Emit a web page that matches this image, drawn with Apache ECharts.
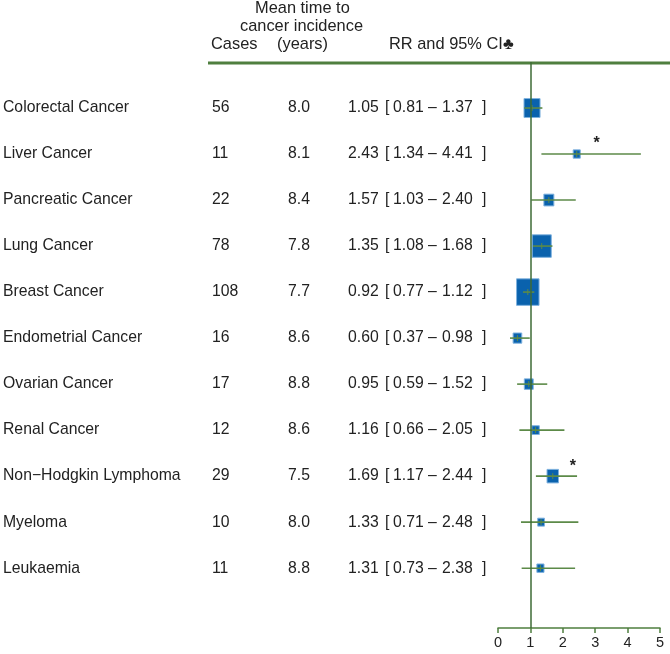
<!DOCTYPE html>
<html><head><meta charset="utf-8">
<script src="https://cdn.jsdelivr.net/npm/echarts@6/dist/echarts.min.js"></script>
<style>html,body{margin:0;padding:0;background:#fff}#c{width:670px;height:654px}</style>
</head><body><div id="c"></div>
<script>
const categories = ["Colorectal Cancer","Liver Cancer","Pancreatic Cancer","Lung Cancer","Breast Cancer","Endometrial Cancer","Ovarian Cancer","Renal Cancer","Non\u2212Hodgkin Lymphoma","Myeloma","Leukaemia"];
const cases = [56,11,22,78,108,16,17,12,29,10,11];
const meanTime = ["8.0","8.1","8.4","7.8","7.7","8.6","8.8","8.6","7.5","8.0","8.8"];
const rr = [1.05,2.43,1.57,1.35,0.92,0.60,0.95,1.16,1.69,1.33,1.31];
const lower = [0.81,1.34,1.03,1.08,0.77,0.37,0.59,0.66,1.17,0.71,0.73];
const upper = [1.37,4.41,2.40,1.68,1.12,0.98,1.52,2.05,2.44,2.48,2.38];
const significant = [false,true,false,false,false,false,false,false,true,false,false];
const xTicks = [0,1,2,3,4,5];

const FONT = '"Liberation Sans", Arial, sans-serif';
const TXT = '#222';
const GREEN = '#4f7f3f';
const FS = 15.75;
const HFS = 16.4;

const rows = categories.map((c,i)=>[rr[i], i+1, lower[i], upper[i], i]);

function fmt(v){return v.toFixed(2);}
function st(w){return {width:w, align:'left', fontSize:FS, fontFamily:FONT, color:TXT};}

const chart = echarts.init(document.getElementById('c'), null, {renderer:'canvas'});
chart.setOption({
  animation:false,
  grid:{left:497, right:10, top:62, bottom:26, containLabel:false},
  xAxis:{type:'value', min:0, max:5, interval:1, position:'bottom',
    axisLine:{show:true, onZero:false, lineStyle:{color:GREEN, width:1.5}},
    axisTick:{show:true, length:5, inside:false, lineStyle:{color:GREEN, width:1.5}},
    axisLabel:{color:TXT, fontSize:14.5, fontFamily:FONT, margin:7,
      formatter:v=> xTicks.includes(v)? String(v):''},
    splitLine:{show:false}},
  yAxis:{type:'value', inverse:true, min:0, max:12.3, interval:1,
    axisLine:{show:false}, axisTick:{show:false}, splitLine:{show:false},
    axisLabel:{show:true, margin:0, showMaxLabel:false, showMinLabel:false,
      formatter:function(v){
        const i = Math.round(v)-1;
        if (Math.abs(v-Math.round(v))>1e-6 || i<0 || i>=categories.length) return '';
        return '{n|'+categories[i]+'}{c|'+cases[i]+'}{m|'+meanTime[i]+'}{a|'+fmt(rr[i])+'}{b|[}{l|'+fmt(lower[i])+'}{d|\u2013}{u|'+fmt(upper[i])+'}{e|]}';
      },
      rich:{ n:st(209), c:st(76), m:st(60), a:st(37), b:st(8), l:st(35), d:st(14), u:st(40), e:st(16) }}},
  graphic:[
    {type:'line', shape:{x1:208,y1:63,x2:670,y2:63}, style:{stroke:GREEN, lineWidth:3}},
    {type:'text', left:255, top:0, style:{text:'Mean time to', font:HFS+'px '+FONT, fill:TXT}},
    {type:'text', left:240, top:18, style:{text:'cancer incidence', font:HFS+'px '+FONT, fill:TXT}},
    {type:'text', left:211, top:36, style:{text:'Cases', font:HFS+'px '+FONT, fill:TXT}},
    {type:'text', left:277, top:36, style:{text:'(years)', font:HFS+'px '+FONT, fill:TXT}},
    {type:'text', left:389, top:36, style:{text:'RR and 95% CI\u2663', font:HFS+'px '+FONT, fill:TXT}}
  ],
  series:[
    {type:'custom', data:rows, z:3,
      encode:{x:[0,2,3], y:1},
      renderItem:function(params, api){
        const est = api.value(0), row = api.value(1), lo = api.value(2), hi = api.value(3);
        const i = api.value(4);
        const p = api.coord([est,row]);
        const pl = api.coord([lo,row]);
        const ph = api.coord([hi,row]);
        const se = (Math.log(hi)-Math.log(lo))/3.92;
        const w = 2.15/se, h = w*1.18;
        const children = [
          {type:'rect', shape:{x:p[0]-w/2, y:p[1]-h/2, width:w, height:h},
            style:{fill:'#0a62ad', stroke:'#7fb2df', lineWidth:1}},
          {type:'line', shape:{x1:pl[0],y1:p[1],x2:ph[0],y2:p[1]}, style:{stroke:'#5c8a48', lineWidth:1.6}},
          {type:'line', shape:{x1:p[0],y1:p[1]-3,x2:p[0],y2:p[1]+3}, style:{stroke:'#5c8a48', lineWidth:1}}
        ];
        if (significant[i]) {
          children.push({type:'text', x:p[0]+20, y:p[1]-10,
            style:{text:'*', font:'bold 16px '+FONT, fill:'#222', align:'center', verticalAlign:'middle'}});
        }
        return {type:'group', children:children};
      },
      markLine:{silent:true, symbol:'none', label:{show:false},
        lineStyle:{color:'#3e6b36', width:1.5, type:'solid'},
        data:[{xAxis:1}]}
    }
  ]
});
</script></body></html>
